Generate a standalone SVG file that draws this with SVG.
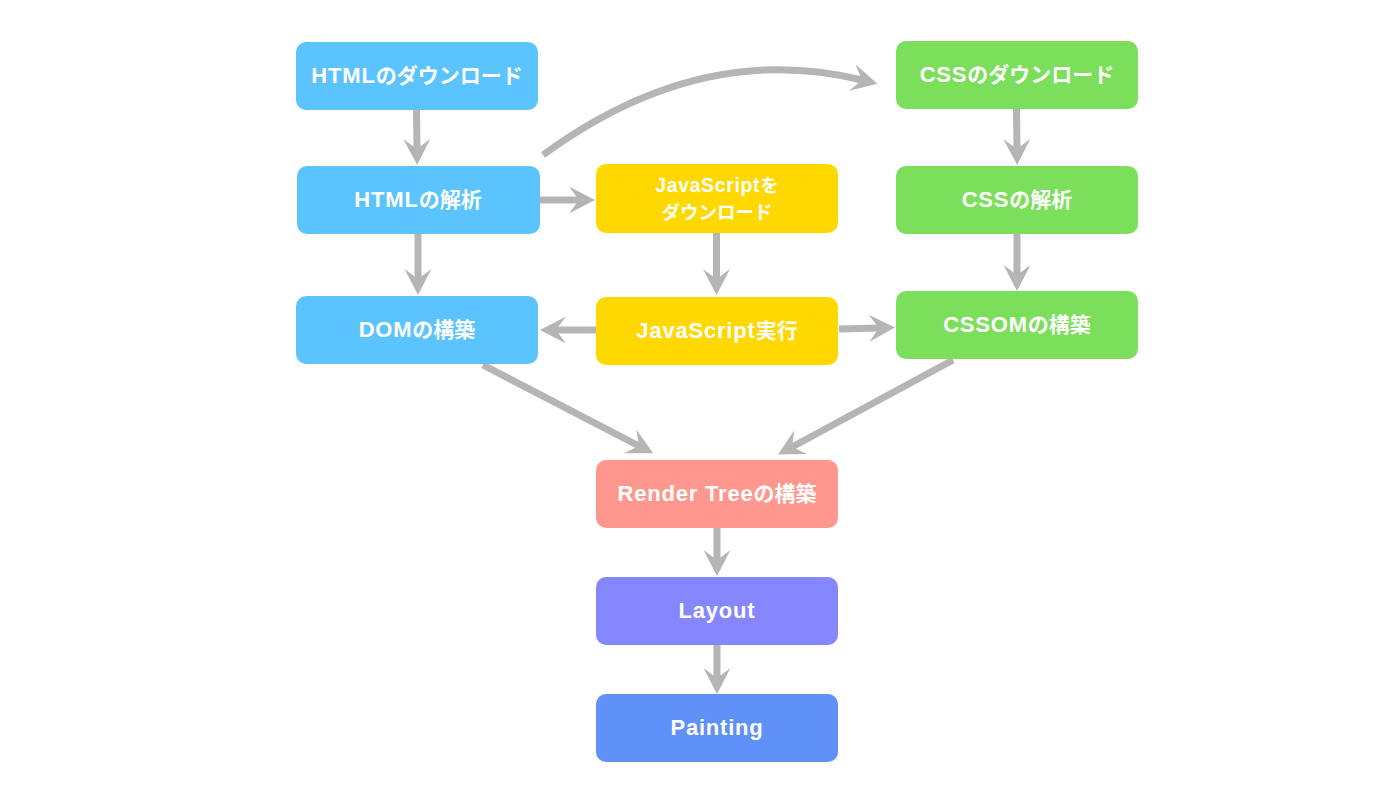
<svg xmlns="http://www.w3.org/2000/svg" width="1400" height="795" viewBox="0 0 1400 795">
<style>
.box{rx:10px;ry:10px}
.blue{fill:#5BC4FE}
.yellow{fill:#FFD800}
.green{fill:#7BDF5B}
.salmon{fill:#FF978E}
.purple{fill:#8686FF}
.navy{fill:#5F91F8}
text{font-family:"Liberation Sans","Noto Sans CJK JP",sans-serif;font-weight:bold;font-size:21px;fill:#FFFFFF;text-anchor:middle}
.l{font-size:22px;letter-spacing:0.8px}
text.s{font-size:18.5px}
text.s .l{font-size:19.4px;letter-spacing:0.7px}
.conn{fill:none;stroke:#B5B5B5;stroke-width:7;marker-end:url(#ah)}
</style>
<defs>
<marker id="ah" markerUnits="userSpaceOnUse" orient="auto" refX="0" refY="0" markerWidth="40" markerHeight="40" overflow="visible">
<path d="M16,0 L-10,-13.5 L0,0 L-10,13.5 Z" fill="#B5B5B5"/>
</marker>
</defs>
<rect width="1400" height="795" fill="#FFFFFF"/>
<g id="connectors">
<path class="conn" d="M416.5,110 L417,149"/>
<path class="conn" d="M418,234 L418,279"/>
<path class="conn" d="M540,200 L579,200"/>
<path class="conn" d="M543,155 Q700,40 862,80"/>
<path class="conn" d="M716.5,233 L716.5,279"/>
<path class="conn" d="M596,330 L556,330"/>
<path class="conn" d="M839,329 L879,328"/>
<path class="conn" d="M1016.5,109 L1017,149"/>
<path class="conn" d="M1017,234 L1017,275"/>
<path class="conn" d="M483,365 L639,446"/>
<path class="conn" d="M953,360 L792,447"/>
<path class="conn" d="M717,528 L717,560"/>
<path class="conn" d="M717,645 L717,678"/>
</g>
<g id="html-download"><rect class="box blue" x="296" y="42" width="242" height="68"/><text x="417" y="83"><tspan class="l">HTML</tspan>のダウンロード</text></g>
<g id="html-parse"><rect class="box blue" x="297" y="166" width="243" height="68"/><text x="418" y="207"><tspan class="l">HTML</tspan>の解析</text></g>
<g id="dom"><rect class="box blue" x="296" y="296" width="242" height="68"/><text x="417" y="337"><tspan class="l">DOM</tspan>の構築</text></g>
<g id="js-download"><rect class="box yellow" x="596" y="164" width="242" height="69"/><text class="s" x="717" y="192"><tspan class="l">JavaScript</tspan>を</text><text class="s" x="717" y="219">ダウンロード</text></g>
<g id="js-exec"><rect class="box yellow" x="596" y="297" width="242" height="68"/><text x="717" y="338"><tspan class="l">JavaScript</tspan>実行</text></g>
<g id="css-download"><rect class="box green" x="896" y="41" width="242" height="68"/><text x="1017" y="82"><tspan class="l">CSS</tspan>のダウンロード</text></g>
<g id="css-parse"><rect class="box green" x="896" y="166" width="242" height="68"/><text x="1017" y="207"><tspan class="l">CSS</tspan>の解析</text></g>
<g id="cssom"><rect class="box green" x="896" y="291" width="242" height="68"/><text x="1017" y="332"><tspan class="l">CSSOM</tspan>の構築</text></g>
<g id="render-tree"><rect class="box salmon" x="596" y="460" width="242" height="68"/><text x="717" y="501"><tspan class="l">Render Tree</tspan>の構築</text></g>
<g id="layout"><rect class="box purple" x="596" y="577" width="242" height="68"/><text x="717" y="618"><tspan class="l">Layout</tspan></text></g>
<g id="painting"><rect class="box navy" x="596" y="694" width="242" height="68"/><text x="717" y="735"><tspan class="l">Painting</tspan></text></g>
</svg>
